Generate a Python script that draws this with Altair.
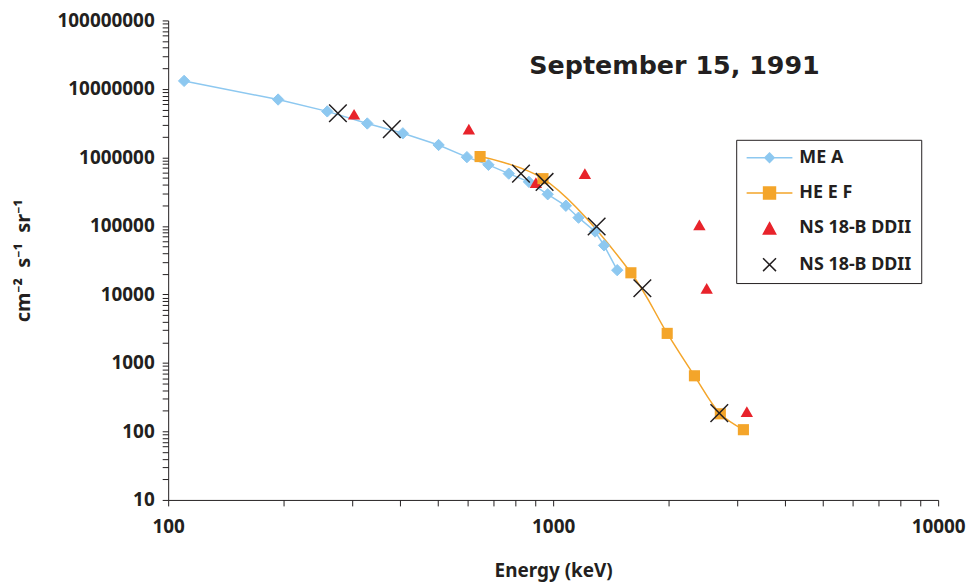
import altair as alt
import pandas as pd

# ---------------- data ----------------
MEA_E = [110, 193, 259, 329, 407, 504, 597, 679, 767, 865, 968, 1079, 1164, 1285, 1356, 1467]
MEA_V = [1.31e7, 7.0e6, 4.7e6, 3.13e6, 2.25e6, 1.52e6, 1.01e6, 7.8e5, 5.8e5, 4.4e5,
         2.9e5, 1.97e5, 1.32e5, 8.3e4, 5.2e4, 2.26e4]
HEEF_E = [646, 941, 1592, 1978, 2328, 2718, 3120]
HEEF_V = [1.03e6, 4.9e5, 2.07e4, 2.7e3, 649, 181, 106]
NSA_E = [304, 604, 902, 1209, 2398, 2505, 3185]
NSA_V = [4.27e6, 2.59e6, 4.29e5, 5.8e5, 1.04e5, 1.23e4, 195]
NSB_E = [276, 381, 825, 950, 1297, 1705, 2701]
NSB_V = [4.41e6, 2.59e6, 5.8e5, 4.39e5, 9.8e4, 1.23e4, 185]

SERIES_KEYS = ["MEA", "HEEF", "NS18_TRI", "NS18_X"]
SERIES_LABELS = ["ME A", "HE E F", "NS 18-B DDII", "NS 18-B DDII"]
TITLE = ["September 15, 1991"]
X_TITLE = "Energy (keV)"
Y_TITLE = "cm\u207b\u00b2\u00a0\u00a0s\u207b\u00b9\u00a0\u00a0sr\u207b\u00b9"

X_DOMAIN = [100, 10000]
Y_DOMAIN = [10, 1e8]
X_TICKS = [k * 10 ** n for n in (2, 3) for k in range(1, 10)] + [10000]
Y_TICKS = [k * 10 ** n for n in range(1, 8) for k in range(1, 10)] + [10 ** 8]

# ---------------- styling ----------------
W, H = 774, 482
FONT = "Noto Sans"
BLUE = "#8DC8F0"
ORANGE = "#F4A52A"
RED = "#E8232B"
BLACK = "#231F20"

LEGEND_PATHS = [
    "M-3.54,0H3.54M0,-0.72L0.72,0L0,0.72L-0.72,0Z",
    "M-3.54,0H3.54M-0.92,-0.92H0.92V0.92H-0.92Z",
    "M0,-0.87L0.95,0.87H-0.95Z",
    "M-1,-1L1,1M-1,1L1,-1",
]
X_PATH = "M-1,-1L1,1M-1,1L1,-1"

def frame(e, v, key):
    return pd.DataFrame({"E": e, "V": v, "series": key})

mea = frame(MEA_E, MEA_V, "MEA")
heef = frame(HEEF_E, HEEF_V, "HEEF")
nsa = frame(NSA_E, NSA_V, "NS18_TRI")
nsb = frame(NSB_E, NSB_V, "NS18_X")
allpts = pd.concat([mea, heef, nsa, nsb], ignore_index=True)

is_pow = "abs(log(datum.value)/LN10 - round(log(datum.value)/LN10)) < 1e-6"
pow_label = f"{is_pow} ? format(datum.value, 'd') : ''"

x_axis = alt.Axis(
    values=X_TICKS, labelExpr=pow_label,
    title=X_TITLE, grid=False, tickSize=6, labelPadding=12, titlePadding=25,
    labelFont=FONT, labelFontSize=19, labelFontWeight="bold", labelColor=BLACK,
    titleFont=FONT, titleFontSize=19, titleFontWeight="bold", titleColor=BLACK,
    domainColor=BLACK, tickColor=BLACK, labelFlush=False, labelOverlap=False,
)
X = alt.X("E:Q", scale=alt.Scale(type="log", domain=X_DOMAIN), axis=x_axis)

y_axis = alt.Axis(
    values=Y_TICKS, labelExpr=pow_label, title=Y_TITLE, grid=False,
    tickSize=6, labelPadding=8, titlePadding=24,
    labelFont=FONT, labelFontSize=19, labelFontWeight="bold", labelColor=BLACK,
    titleFont=FONT, titleFontSize=20, titleFontWeight="bold", titleColor=BLACK,
    domainColor=BLACK, tickColor=BLACK, labelFlush=False, labelOverlap=False,
)
Y = alt.Y("V:Q", scale=alt.Scale(type="log", domain=Y_DOMAIN), axis=y_axis)

line_mea = alt.Chart(mea).mark_line(color=BLUE, strokeWidth=1.5).encode(x=X, y=Y)
line_heef = alt.Chart(heef).mark_line(color=ORANGE, strokeWidth=1.5, interpolate="catmull-rom").encode(x=X, y=Y)

def pts(df, **mk):
    return alt.Chart(df).mark_point(**mk).encode(x=X, y=Y)

p_mea = pts(mea, shape="diamond", size=130, filled=True, fill=BLUE, stroke=BLUE, strokeWidth=1, opacity=1)
p_tri = pts(nsa, shape="triangle-up", size=155, filled=True, fill=RED, opacity=1)
p_heef = pts(heef, shape="square", size=125, filled=True, fill=ORANGE, opacity=1)
p_x = pts(nsb, shape=X_PATH, size=313, stroke=BLACK, strokeWidth=1.5, opacity=1)

label_map = "{" + ",".join(f"'{k}':'{l}'" for k, l in zip(SERIES_KEYS, SERIES_LABELS)) + "}"
leg = alt.Legend(
    title=None, orient="none", legendX=571, legendY=120,
    labelExpr=f"{label_map}[datum.label]",
    labelFont=FONT, labelFontSize=18, labelFontWeight="bold", labelColor=BLACK,
    symbolSize=169, symbolStrokeWidth=1.5, symbolOffset=15.5, labelOffset=21,
    padding=9, rowPadding=17.5, strokeColor=BLACK, fillColor="white", labelLimit=300,
)
legend_layer = alt.Chart(allpts).transform_filter("false").mark_point(filled=True, opacity=1).encode(
    shape=alt.Shape("series:N", scale=alt.Scale(domain=SERIES_KEYS, range=LEGEND_PATHS), legend=leg),
    fill=alt.Fill("series:N", scale=alt.Scale(domain=SERIES_KEYS, range=[BLUE, ORANGE, RED, "transparent"]), legend=leg),
    stroke=alt.Stroke("series:N", scale=alt.Scale(domain=SERIES_KEYS, range=[BLUE, ORANGE, RED, BLACK]), legend=leg),
)

title_layer = alt.Chart(pd.DataFrame({"t": TITLE})).mark_text(
    font="DejaVu Sans", fontSize=25.5, fontWeight="bold", color=BLACK, align="center", baseline="middle"
).encode(text="t:N", x=alt.value(509), y=alt.value(46))

chart = alt.layer(
    line_mea, line_heef, p_mea, p_tri, p_heef, p_x, legend_layer, title_layer
).properties(
    width=W, height=H, padding={"left": 5, "top": 2, "right": 0, "bottom": 0}, background="white"
).configure_view(stroke=None)

chart.save("out.html", embed_options={"renderer": "svg", "actions": False})
